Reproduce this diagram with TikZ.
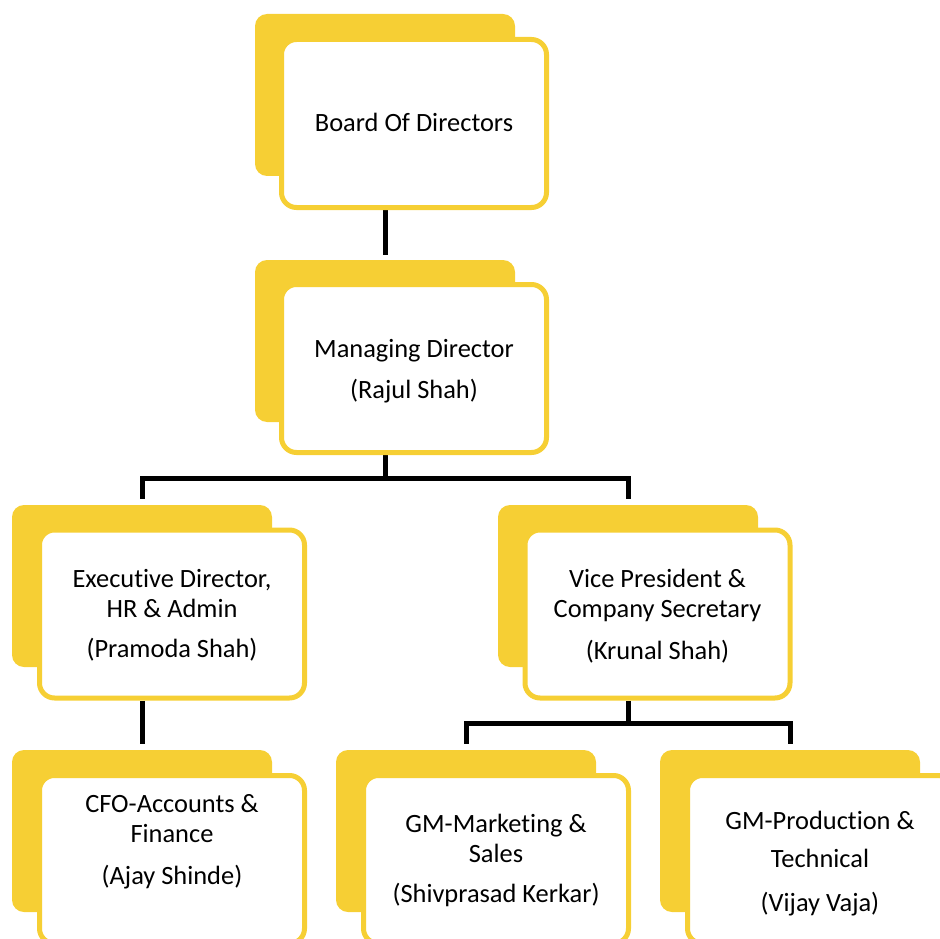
\documentclass[tikz,border=0pt]{standalone}
\usepackage{fontspec}
\setmainfont{Carlito}[Ligatures={NoCommon}]
\usetikzlibrary{backgrounds}
\definecolor{gold}{HTML}{F6CF34}
\tikzset{
  backbox/.style={fill=gold, rounded corners=12pt, minimum width=260pt, minimum height=162pt, inner sep=0pt},
  frontbox/.style={draw=gold, fill=white, line width=5pt, rounded corners=15pt, minimum width=265pt, minimum height=168pt, inner sep=0pt},
  lbl/.style={anchor=base, align=center, font=\fontsize{26.4}{30}\selectfont, inner sep=0pt},
  conn/.style={line width=5pt, black}
}
\begin{document}
\begin{tikzpicture}[x=1pt,y=-1pt]
\useasboundingbox (0,0) rectangle (940,939);
\clip (0,0) rectangle (940,939);
% back boxes
\node[backbox] (bodb) at (385,95) {};
\node[backbox] (mdb)  at (385,341) {};
\node[backbox] (edb)  at (142,586) {};
\node[backbox] (vpb)  at (628,586) {};
\node[backbox] (cfob) at (142,831) {};
\node[backbox] (gmmb) at (466,831) {};
\node[backbox] (gmpb) at (790,831) {};
% front boxes
\node[frontbox] (bod) at (414,123.5) {};
\node[frontbox] (md)  at (414,368.5) {};
\node[frontbox] (ed)  at (172,614) {};
\node[frontbox] (vp)  at (657.5,614) {};
\node[frontbox] (cfo) at (172,859.5) {};
\node[frontbox] (gmm) at (496,859.5) {};
\node[frontbox] (gmp) at (820,859.5) {};
% texts (anchored at the baseline of the last line)
\node[lbl] (bodt) at (414,132) {Board Of Directors};
\node[lbl] (mdt)  at (414,398) {Managing Director\\[11pt](Rajul Shah)};
\node[lbl] (edt)  at (172,657) {Executive Director,\\HR \& Admin\\[10pt](Pramoda Shah)};
\node[lbl] (vpt)  at (657.5,659) {Vice President \&\\Company Secretary\\[12pt](Krunal Shah)};
\node[lbl] (cfot) at (172,884) {CFO-Accounts \&\\Finance\\[12pt](Ajay Shinde)};
\node[lbl] (gmmt) at (496,902) {GM-Marketing \&\\Sales\\[10pt](Shivprasad Kerkar)};
\node[lbl] (gmpt) at (820,911) {GM-Production \&\\[8pt]Technical\\[14pt](Vijay Vaja)};
% connectors
\coordinate (j1) at (385,478);
\coordinate (j2) at (628,723);
\begin{scope}[on background layer]
\draw[conn, shorten >=5pt] (bod.south -| bodb) -- (mdb.north);
\draw[conn] (md.south -| mdb) -- (j1);
\draw[conn, shorten >=6pt] (j1) -| (edb.north);
\draw[conn, shorten >=6pt] (j1) -| (vpb.north);
\draw[conn, shorten >=6pt] (ed.south -| edb) -- (cfob.north);
\draw[conn] (vp.south -| vpb) -- (j2);
\draw[conn, shorten >=6pt] (j2) -| (gmmb.north);
\draw[conn, shorten >=6pt] (j2) -| (gmpb.north);
\end{scope}
\end{tikzpicture}
\end{document}
